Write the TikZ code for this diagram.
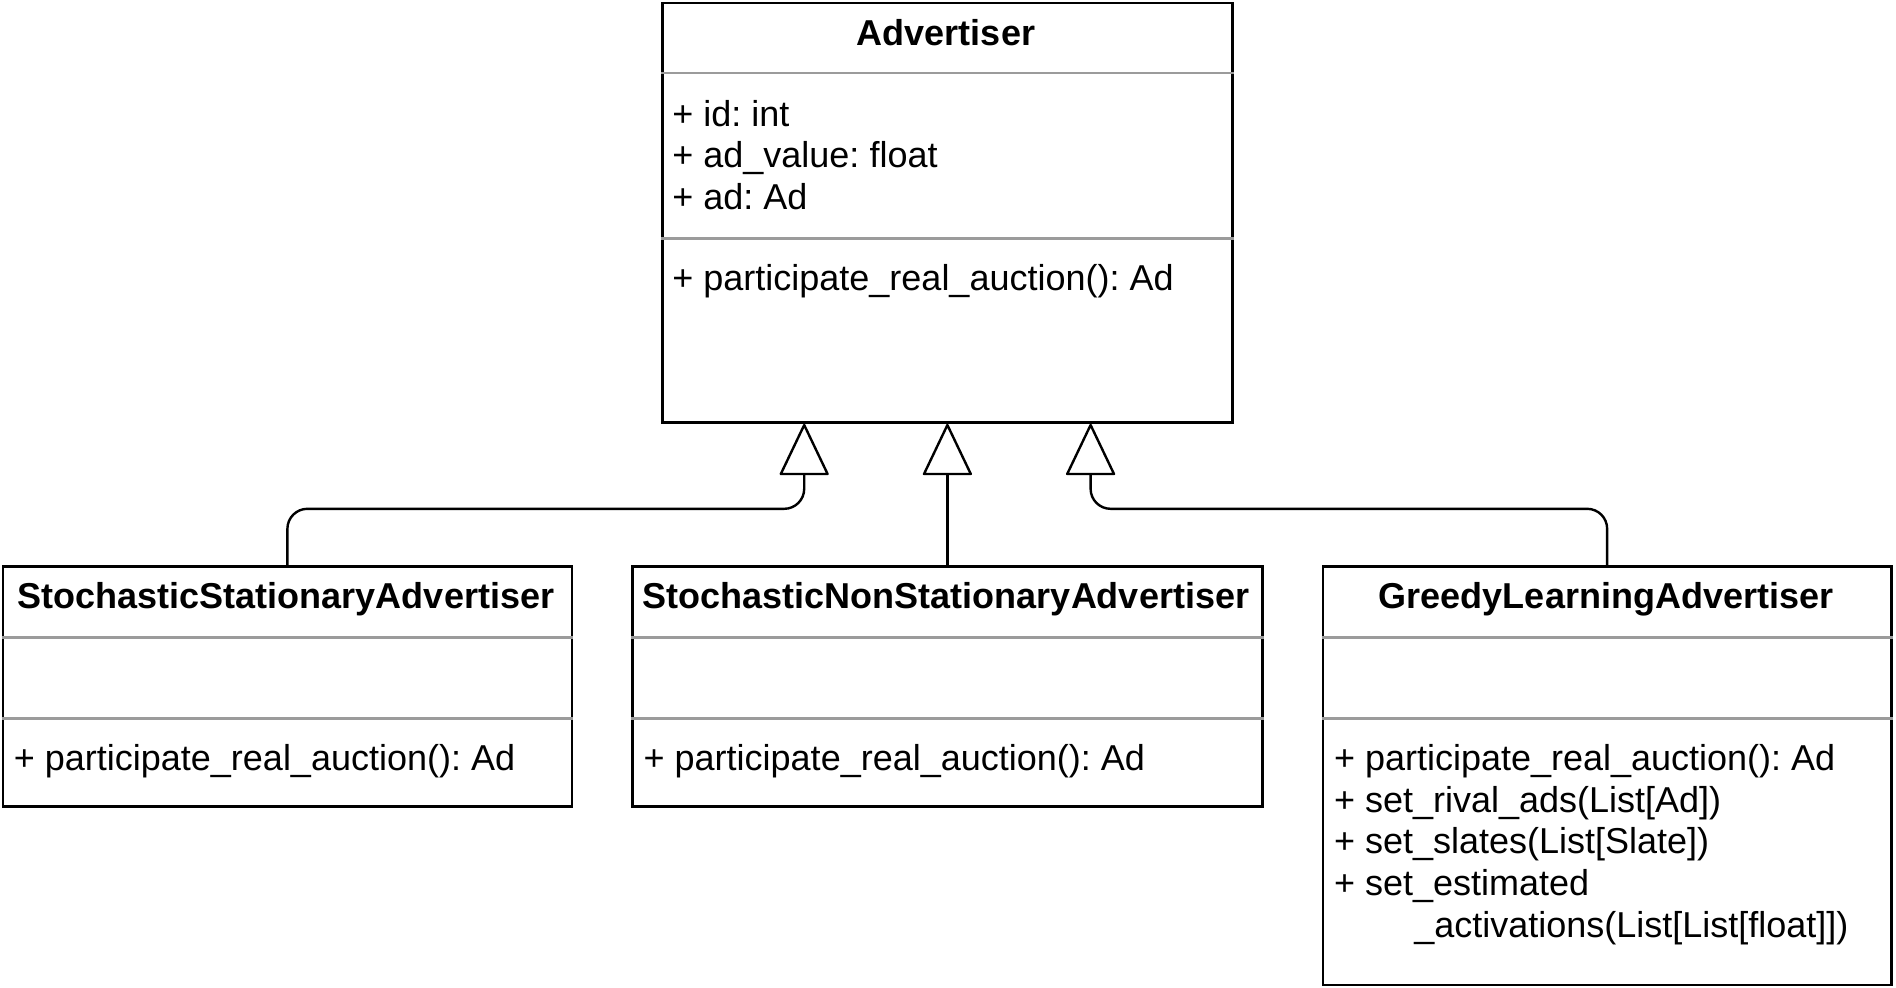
\documentclass[tikz,border=0pt]{standalone}
\usepackage{fontspec}
\setmainfont{Liberation Sans}
\usepackage{tikz}
\usetikzlibrary{arrows.meta,calc}
\frenchspacing

\tikzset{
  classbox/.style={draw=black, line width=1.4pt, rectangle, inner sep=0pt, anchor=north west},
  classname/.style={font=\fontsize{18}{21}\selectfont\bfseries, inner sep=0pt, anchor=base},
  member/.style={font=\fontsize{18}{21}\selectfont, inner sep=0pt, anchor=base west},
  sepline/.style={draw=sepgray, line width=1.3pt},
  inherit/.style={line width=1.2pt, rounded corners=10pt,
    -{Triangle[open, width=25pt, length=26.5pt, round=false]}}
}
\definecolor{sepgray}{RGB}{155,155,155}

\begin{document}
\begin{tikzpicture}[x=0.5pt, y=-0.5pt]
  \fill[white] (0,0) rectangle (1896,987);
  \useasboundingbox (0,0) rectangle (1896,987);

  % parent class
  \node[classbox, minimum width=285pt, minimum height=209.75pt] (adv) at (661,1.5) {};
  \node[classname] (advT) at (946,45) {Advertiser};
  \draw[sepline] ($(adv.north west)+(0,71.5)$) -- ($(adv.north east)+(0,71.5)$);
  \node[member] (advA1) at (672,126) {+ id: int};
  \node[member] (advA2) at (672,167.5) {+ ad\_value: float};
  \node[member] (advA3) at (672,209.2) {+ ad: Ad};
  \draw[sepline] ($(adv.north west)+(0,237)$) -- ($(adv.north east)+(0,237)$);
  \node[member] (advM1) at (672,290.5) {+ participate\_real\_auction(): Ad};

  % subclasses
  \node[classbox, minimum width=284.5pt, minimum height=120pt] (ssa) at (1.5,565) {};
  \node[classname] (ssaT) at (286,608) {StochasticStationaryAdvertiser};
  \draw[sepline] ($(ssa.north west)+(0,72.3)$) -- ($(ssa.north east)+(0,72.3)$);
  \draw[sepline] ($(ssa.north west)+(0,153.3)$) -- ($(ssa.north east)+(0,153.3)$);
  \node[member] (ssaM1) at (13.5,770.5) {+ participate\_real\_auction(): Ad};

  \node[classbox, minimum width=315pt, minimum height=120pt] (snsa) at (631,565) {};
  \node[classname] (snsaT) at (946,608) {StochasticNonStationaryAdvertiser};
  \draw[sepline] ($(snsa.north west)+(0,72.3)$) -- ($(snsa.north east)+(0,72.3)$);
  \draw[sepline] ($(snsa.north west)+(0,153.3)$) -- ($(snsa.north east)+(0,153.3)$);
  \node[member] (snsaM1) at (643.3,770.5) {+ participate\_real\_auction(): Ad};

  \node[classbox, minimum width=284.25pt, minimum height=209.25pt] (gla) at (1321.5,565) {};
  \node[classname] (glaT) at (1606,608) {GreedyLearningAdvertiser};
  \draw[sepline] ($(gla.north west)+(0,72.3)$) -- ($(gla.north east)+(0,72.3)$);
  \draw[sepline] ($(gla.north west)+(0,153.3)$) -- ($(gla.north east)+(0,153.3)$);
  \node[member] (glaM1) at (1333.6,770.5) {+ participate\_real\_auction(): Ad};
  \node[member] (glaM2) at (1333.6,812.2) {+ set\_rival\_ads(List[Ad])};
  \node[member] (glaM3) at (1333.6,853.8) {+ set\_slates(List[Slate])};
  \node[member] (glaM4) at (1333.6,895.5) {+ set\_estimated};
  \node[member] (glaM5) at (1413.9,937.2) {\_activations(List[List[float]])};

  % generalisation arrows
  \coordinate (tip1) at ($(adv.south west)!0.25!(adv.south east)$);
  \coordinate (tip2) at (adv.south);
  \coordinate (tip3) at ($(adv.south west)!0.75!(adv.south east)$);
  \draw[inherit] (ssa.north) |- ($(tip1)+(0,85)$) -- (tip1);
  \draw[inherit] (snsa.north) -- (tip2);
  \draw[inherit] (gla.north) |- ($(tip3)+(0,85)$) -- (tip3);
\end{tikzpicture}
\end{document}
